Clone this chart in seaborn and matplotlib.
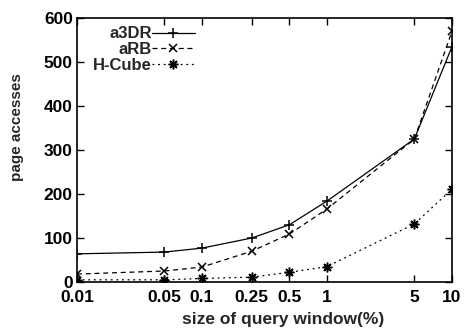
import matplotlib
matplotlib.use("Agg")
import matplotlib.pyplot as plt
import seaborn as sns
import pandas as pd

# query window sizes (% of data space)
window_sizes = [0.01, 0.05, 0.1, 0.25, 0.5, 1, 5, 10]
tick_labels = ["0.01", "0.05", "0.1", "0.25", "0.5", "1", "5", "10"]

# page accesses per method
a3dr = [64, 68, 77, 100, 130, 184, 325, 535]
arb = [18, 25, 34, 70, 109, 166, 325, 570]
hcube = [5, 5, 8, 11, 22, 35, 132, 211]

sns.set_theme(style="ticks")
plt.rcParams["font.family"] = ["Liberation Sans", "DejaVu Sans"]
plt.rcParams["font.weight"] = "bold"

fig = plt.figure(figsize=(4.65, 3.32), dpi=100)
ax = fig.add_axes([77 / 465, 1 - 282 / 332, 375 / 465, 264 / 332])

series = [
    ("a3DR", a3dr, "-", "+", 7),
    ("aRB", arb, (0, (4, 3)), "x", 6),
    ("H-Cube", hcube, (0, (1.5, 3)), (8, 2, 0), 7),
]
for name, vals, ls, mk, ms in series:
    df = pd.DataFrame({"size": window_sizes, "pages": vals})
    sns.lineplot(data=df, x="size", y="pages", ax=ax, color="black",
                 linestyle=ls, linewidth=0.9, marker=mk, markersize=ms,
                 markeredgewidth=1.1, markeredgecolor="black",
                 markerfacecolor="black", label=name)

ax.set_xscale("log")
ax.set_xlim(0.01, 10)
ax.set_ylim(0, 600)
ax.set_xticks(window_sizes)
ax.set_xticklabels(tick_labels)
ax.minorticks_off()
ax.set_yticks(range(0, 601, 100))

for s in ax.spines.values():
    s.set_linewidth(1.2)
    s.set_color("black")
ax.tick_params(direction="in", top=True, right=True, length=5, width=1,
               labelsize=12.5, colors="black")
ax.tick_params(axis="x", pad=6)
ax.tick_params(axis="y", pad=3)

ax.set_xlabel("size of query window(%)", fontsize=12.5, fontweight="bold")
ax.xaxis.set_label_coords(0.55, -0.112)
ax.set_ylabel("page accesses", fontsize=11, fontweight="bold")
ax.yaxis.set_label_coords(-0.142, 0.587)

leg = ax.legend(loc="upper right", bbox_to_anchor=(0.33, 0.99), frameon=False,
                markerfirst=False, fontsize=12, handlelength=2.6,
                handletextpad=0.0, labelspacing=0.05, borderaxespad=0.15,
                borderpad=0.2)

fig.savefig("out.png", dpi=100)
